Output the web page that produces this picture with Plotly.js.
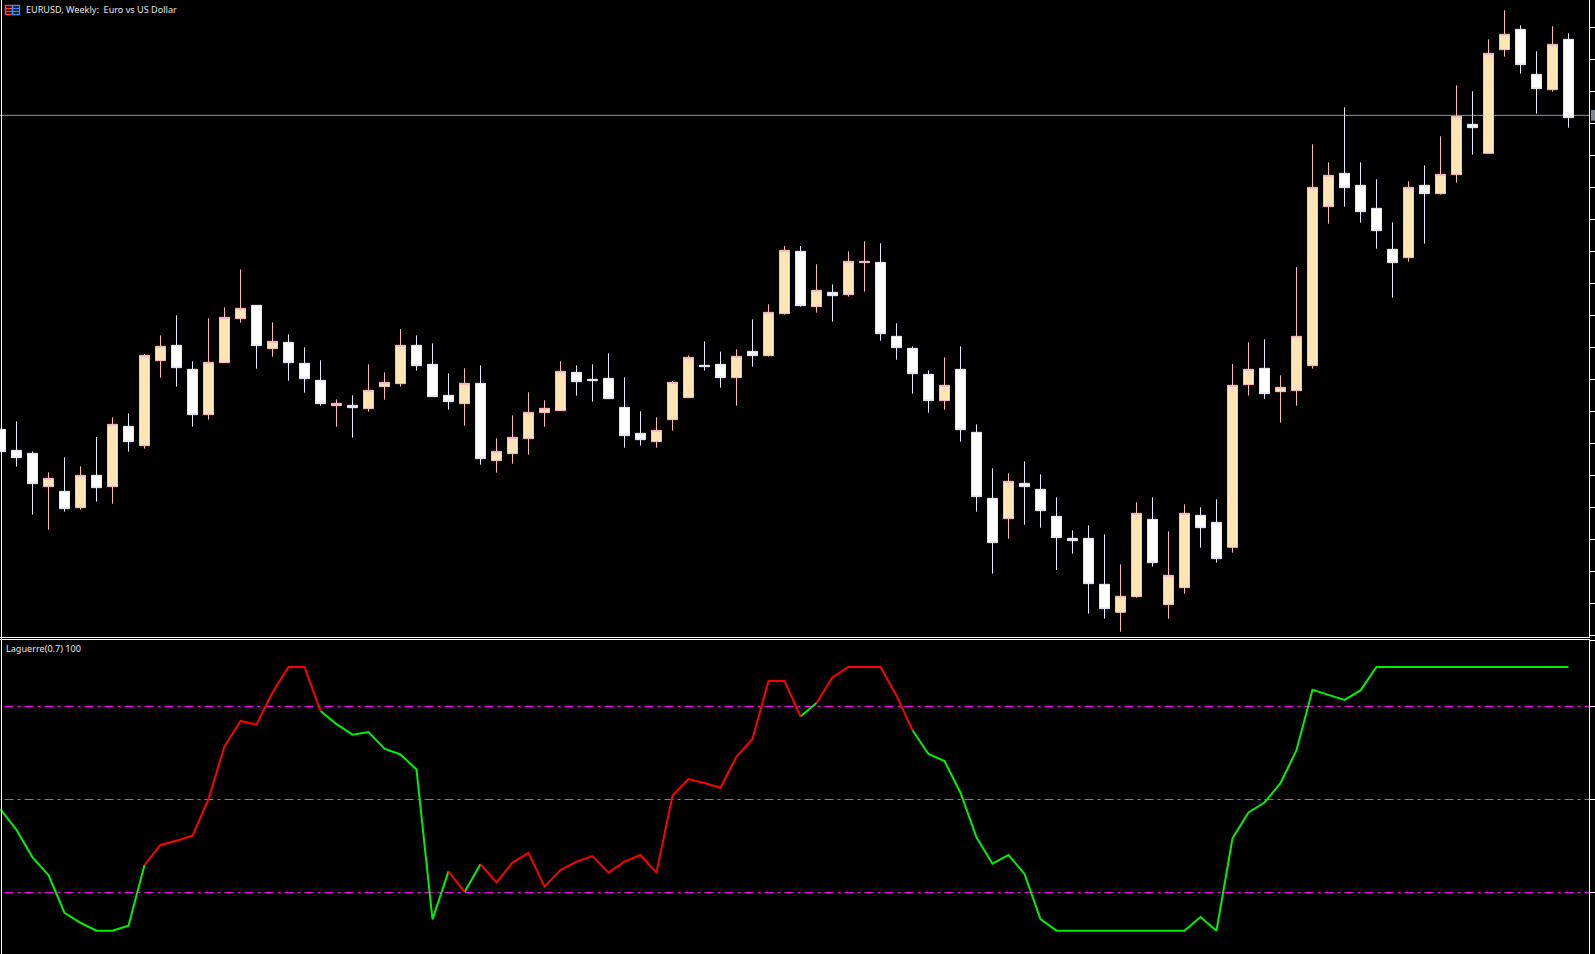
<!DOCTYPE html>
<html>
<head>
<meta charset="utf-8">
<script src="https://cdn.plot.ly/plotly-3.0.1.min.js"></script>
<style>html,body{margin:0;padding:0;background:#000;overflow:hidden}#chart{width:1595px;height:954px}</style>
</head>
<body>
<div id="chart"></div>
<script>
// Weekly EURUSD bars
const open = [1.0712,1.0649,1.0640,1.0540,1.0526,1.0477,1.0574,1.0540,1.0721,1.0663,
1.0918,1.0964,1.0892,1.0756,1.0912,1.1044,1.1084,1.0954,1.0973,1.0910,
1.0859,1.0783,1.0784,1.0774,1.0840,1.0849,1.0964,1.0907,1.0814,1.0789,
1.0850,1.0618,1.0639,1.0684,1.0762,1.0768,1.0883,1.0862,1.0865,1.0778,
1.0700,1.0675,1.0741,1.0807,1.0904,1.0907,1.0867,1.0946,1.0933,1.1059,
1.1246,1.1080,1.1123,1.1116,1.1212,1.1213,1.0991,1.0955,1.0877,1.0798,
1.0892,1.0703,1.0505,1.0444,1.0550,1.0532,1.0451,1.0385,1.0385,1.0247,
1.0163,1.0210,1.0442,1.0186,1.0237,1.0454,1.0433,1.0358,1.0846,1.0895,
1.0825,1.0828,1.0903,1.1380,1.1480,1.1444,1.1375,1.1252,1.1227,1.1444,
1.1419,1.1476,1.1627,1.1540,1.1851,1.1912,1.1777,1.1731,1.1882];
const high = [1.0712,1.0736,1.0646,1.0583,1.0628,1.0601,1.0689,1.0748,1.0760,1.0938,
1.0994,1.1054,1.0916,1.1045,1.1078,1.1192,1.1084,1.1033,1.0997,1.0958,
1.0919,1.0802,1.0814,1.0907,1.0883,1.1013,1.0994,1.0970,1.0880,1.0895,
1.0904,1.0685,1.0754,1.0823,1.0799,1.0916,1.0904,1.0907,1.0940,1.0868,
1.0766,1.0748,1.0857,1.0934,1.0976,1.0945,1.0952,1.1042,1.1087,1.1262,
1.1262,1.1207,1.1147,1.1246,1.1276,1.1270,1.1030,1.0961,1.0889,1.0928,
1.0961,1.0727,1.0595,1.0580,1.0616,1.0577,1.0508,1.0409,1.0424,1.0397,
1.0307,1.0493,1.0508,1.0406,1.0487,1.0478,1.0502,1.0908,1.0973,1.0982,
1.0874,1.1199,1.1567,1.1513,1.1678,1.1513,1.1462,1.1333,1.1456,1.1504,
1.1591,1.1744,1.1726,1.1882,1.1969,1.1924,1.1846,1.1921,1.1900];
const low = [1.0645,1.0600,1.0456,1.0411,1.0465,1.0471,1.0495,1.0489,1.0645,1.0654,
1.0867,1.0840,1.0720,1.0741,1.0912,1.1032,1.0894,1.0930,1.0858,1.0822,
1.0783,1.0720,1.0687,1.0765,1.0801,1.0840,1.0888,1.0810,1.0771,1.0723,
1.0606,1.0582,1.0609,1.0636,1.0720,1.0768,1.0813,1.0795,1.0804,1.0657,
1.0663,1.0657,1.0708,1.0807,1.0888,1.0837,1.0783,1.0900,1.0930,1.1056,
1.1080,1.1062,1.1035,1.1110,1.1125,1.0978,1.0921,1.0819,1.0762,1.0771,
1.0675,1.0465,1.0279,1.0384,1.0426,1.0417,1.0290,1.0339,1.0159,1.0144,
1.0105,1.0207,1.0300,1.0144,1.0219,1.0357,1.0312,1.0342,1.0813,1.0804,
1.0732,1.0783,1.0894,1.1329,1.1380,1.1332,1.1254,1.1107,1.1215,1.1269,
1.1416,1.1452,1.1536,1.1540,1.1830,1.1779,1.1659,1.1725,1.1617];
const close = [1.0645,1.0627,1.0549,1.0565,1.0474,1.0574,1.0537,1.0727,1.0675,1.0934,
1.0961,1.0897,1.0756,1.0913,1.1048,1.1075,1.0963,1.0976,1.0912,1.0864,
1.0789,1.0790,1.0777,1.0829,1.0853,1.0964,1.0903,1.0810,1.0795,1.0850,
1.0624,1.0646,1.0688,1.0763,1.0775,1.0886,1.0855,1.0858,1.0804,1.0693,
1.0681,1.0709,1.0853,1.0928,1.0900,1.0867,1.0931,1.0933,1.1063,1.1249,
1.1083,1.1129,1.1113,1.1216,1.1216,1.0999,1.0957,1.0879,1.0798,1.0844,
1.0711,1.0510,1.0372,1.0556,1.0540,1.0468,1.0387,1.0378,1.0249,1.0174,
1.0211,1.0460,1.0312,1.0274,1.0460,1.0417,1.0324,1.0844,1.0892,1.0819,
1.0838,1.0991,1.1438,1.1474,1.1437,1.1365,1.1308,1.1212,1.1438,1.1419,
1.1477,1.1651,1.1617,1.1840,1.1897,1.1806,1.1734,1.1867,1.1647];
const bidPrice = 1.1654;

// Laguerre(0.7) oscillator, scaled 0..100
const laguerre = [46.0,38.2,27.8,21.1,6.8,3.0,0,0,1.9,24.9,
32.5,34.1,36.0,49.9,69.9,79.5,78.1,90.3,100,100,
83.3,78.3,74.3,75.3,69.0,66.8,61.1,4.3,22.5,14.7,
25.2,18.3,25.8,29.5,16.7,23.0,26.2,28.3,22.0,26.2,
28.7,22.0,51.2,57.5,56.0,54.2,66.0,72.7,94.7,94.7,
81.2,86.3,96.1,100,100,100,89.1,76.0,67.0,64.3,
52.3,35.4,25.4,28.7,21.5,4.4,0,0,0,0,
0,0,0,0,0,5.2,0,35.0,44.8,48.6,
55.9,68.4,91.3,89.4,87.5,91.1,100,100,100,100,
100,100,100,100,100,100,100,100,100];
// first and last bar of each coloured stretch of the line
const greenRuns = [[0,9],[20,28],[29,30],[50,51],[57,98]];
const redRuns = [[9,20],[28,29],[30,50],[51,57]];
const highLevel = 84.99, midLevel = 49.73, lowLevel = 14.47;
const titleText = 'EURUSD, Weekly:  Euro vs US Dollar';
const indicatorText = 'Laguerre(0.7) 100';

const bars = open.map((_, i) => i);
const W = 1589, H = 954;
const px = v => v / W, py = v => 1 - v / H;

function runsToLine(runs) {
  const x = [], y = [];
  runs.forEach(([a, b]) => {
    for (let k = a; k <= b; k++) { x.push(k); y.push(laguerre[k]); }
    x.push(b + 0.5); y.push(null);
  });
  return {x, y};
}
const green = runsToLine(greenRuns), red = runsToLine(redRuns);
const levelDash = '9px,4px,3px,4px';
const levelTrace = (v, c) => ({
  type: 'scatter', mode: 'lines', xaxis: 'x2', yaxis: 'y2', hoverinfo: 'skip',
  x: [bars[0] - 1, bars[bars.length - 1] + 2], y: [v, v],
  line: {color: c, width: 1, dash: levelDash}
});

const traces = [
  {type: 'candlestick', x: bars, open, high, low, close, xaxis: 'x', yaxis: 'y', hoverinfo: 'skip', whiskerwidth: 0,
   increasing: {line: {color: '#FFB6C1', width: 1}, fillcolor: '#FFE4B5'},
   decreasing: {line: {color: '#E6E6FA', width: 1}, fillcolor: '#FFFFFF'}},
  levelTrace(highLevel, '#FF00FF'),
  levelTrace(midLevel, '#808080'),
  levelTrace(lowLevel, '#FF00FF'),
  {type: 'scatter', mode: 'lines', x: green.x, y: green.y, xaxis: 'x2', yaxis: 'y2', hoverinfo: 'skip', connectgaps: false,
   line: {color: '#00F000', width: 2}},
  {type: 'scatter', mode: 'lines', x: red.x, y: red.y, xaxis: 'x2', yaxis: 'y2', hoverinfo: 'skip', connectgaps: false,
   line: {color: '#FF0000', width: 2}}
];

const xRange = [-0.5 / 16, (W - 0.5) / 16];
const baseX = {range: xRange, showgrid: false, zeroline: false, showticklabels: false, ticks: '',
  showline: true, linecolor: '#FFFFFF', linewidth: 1, fixedrange: true};
const baseY = {side: 'right', showgrid: false, zeroline: false, showticklabels: false, ticks: 'outside',
  ticklen: 5, tickwidth: 1, tickcolor: '#FFFFFF', showline: true, linecolor: '#FFFFFF', linewidth: 1, fixedrange: true};

const rect = (x0, y0, x1, y1, c) => ({type: 'rect', xref: 'paper', yref: 'paper',
  x0: px(x0), x1: px(x1), y0: py(y0), y1: py(y1), line: {color: c, width: 1.4}, fillcolor: 'rgba(0,0,0,0)'});
const hl = (x0, x1, y, c) => ({type: 'line', xref: 'paper', yref: 'paper',
  x0: px(x0), x1: px(x1), y0: py(y), y1: py(y), line: {color: c, width: 1.4}});

const textFont = {family: '"Noto Sans", sans-serif', size: 9.1, color: '#E6E6E6'};

const layout = {
  width: 1595, height: 954, autosize: false,
  paper_bgcolor: '#000000', plot_bgcolor: '#000000', showlegend: false,
  margin: {l: 0, r: 6, t: 0, b: 0, pad: 0},
  boxgap: 0.107,
  xaxis: Object.assign({}, baseX, {domain: [0, 1], anchor: 'y', rangeslider: {visible: false}}),
  yaxis: Object.assign({}, baseY, {domain: [py(637), 1], anchor: 'x', range: [1.2 - 0.0003 * 637, 1.2],
    tick0: 1.19169, dtick: 0.0096, tickmode: 'linear'}),
  xaxis2: Object.assign({}, baseX, {domain: [0, 1], anchor: 'y2', side: 'top'}),
  yaxis2: Object.assign({}, baseY, {domain: [0, py(640)], anchor: 'x2', range: [-8.84, 110.2],
    tickmode: 'array', tickvals: [lowLevel, midLevel, highLevel, 110]}),
  shapes: [
    {type: 'line', xref: 'paper', yref: 'paper', x0: px(1.5), x1: px(1.5), y0: 0, y1: 1,
     line: {color: '#FFFFFF', width: 1}},
    {type: 'line', layer: 'below', xref: 'paper', yref: 'y', x0: 0, x1: 1, y0: bidPrice, y1: bidPrice,
     line: {color: '#8A96A3', width: 1}},
    {type: 'rect', xref: 'paper', yref: 'y', x0: px(1591), x1: px(1595), y0: bidPrice - 0.0016, y1: bidPrice + 0.0016,
     line: {width: 0}, fillcolor: '#778899'},
    rect(5.5, 5.5, 12.5, 14.5, '#FF4040'), hl(5.5, 12.5, 8.5, '#FF4040'), hl(5.5, 12.5, 11.5, '#FF4040'),
    rect(12.5, 5.5, 19.5, 14.5, '#2F8FFF'), hl(12.5, 19.5, 8.5, '#2F8FFF'), hl(12.5, 19.5, 11.5, '#2F8FFF')
  ],
  annotations: [
    {xref: 'paper', yref: 'paper', x: px(23.5), y: py(10), xanchor: 'left', yanchor: 'middle', showarrow: false,
     text: titleText, font: textFont},
    {xref: 'paper', yref: 'paper', x: px(3.5), y: py(648.6), xanchor: 'left', yanchor: 'middle', showarrow: false,
     text: indicatorText, font: textFont}
  ]
};
Plotly.newPlot('chart', traces, layout, {displayModeBar: false, staticPlot: true});
</script>
</body>
</html>
